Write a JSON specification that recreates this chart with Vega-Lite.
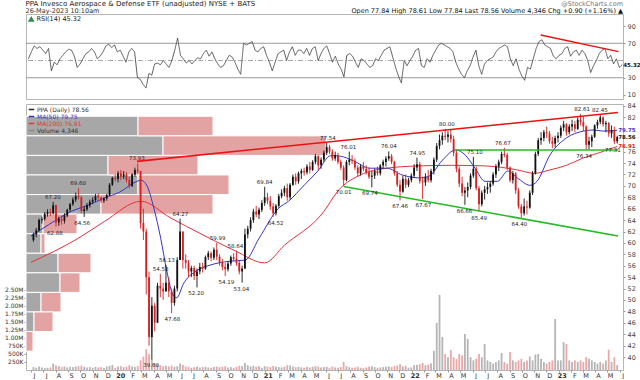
{
"$schema":"https://vega.github.io/schema/vega-lite/v6.json",
"padding":{"left":3,"top":0,"right":0,"bottom":0},
"background":"white",
"bounds":"flush",
"config":{"font":"DejaVu Sans","view":{"stroke":"#b5b5b5"},"axis":{"title":null,"labelFontSize":6.5,"labelColor":"#333","tickColor":"#999","tickSize":2,"domain":false,"grid":false,"labelOverlap":false},"concat":{"spacing":5}},
"title":{"text":"PPA Invesco Aerospace & Defense ETF (unadjusted) NYSE + BATS","subtitle":"26-May-2023 10:10am","anchor":"start","fontSize":7,"fontWeight":"normal","color":"#222","subtitleFontSize":6.5,"subtitleColor":"#333","subtitlePadding":1,"offset":-14,"dx":22},
"datasets":{
"w":[
{"d":"2019-06-07","o":60.5,"h":61.8,"l":60.2,"c":61.5,"v":90,"r":52},
{"d":"2019-06-14","o":61.5,"h":62.6,"l":61.0,"c":62.2,"v":70,"r":60},
{"d":"2019-06-21","o":62.2,"h":64.3,"l":62.0,"c":64.0,"v":110,"r":67},
{"d":"2019-06-28","o":64.0,"h":64.6,"l":63.4,"c":64.2,"v":80,"r":64},
{"d":"2019-07-05","o":64.2,"h":65.4,"l":63.9,"c":65.1,"v":60,"r":66},
{"d":"2019-07-12","o":65.1,"h":65.9,"l":64.6,"c":65.4,"v":70,"r":62},
{"d":"2019-07-19","o":65.4,"h":66.0,"l":64.7,"c":65.2,"v":80,"r":58},
{"d":"2019-07-26","o":65.2,"h":67.2,"l":65.0,"c":66.6,"v":200,"r":64},
{"d":"2019-08-02","o":66.6,"h":66.7,"l":62.88,"c":63.6,"v":150,"r":38},
{"d":"2019-08-09","o":63.6,"h":64.6,"l":63.0,"c":64.2,"v":120,"r":48},
{"d":"2019-08-16","o":64.2,"h":64.8,"l":63.2,"c":63.9,"v":90,"r":45},
{"d":"2019-08-23","o":63.9,"h":65.2,"l":63.4,"c":64.8,"v":110,"r":52},
{"d":"2019-08-30","o":64.8,"h":66.0,"l":64.5,"c":65.8,"v":80,"r":56},
{"d":"2019-09-06","o":65.8,"h":67.0,"l":65.5,"c":66.8,"v":100,"r":60},
{"d":"2019-09-13","o":66.8,"h":68.0,"l":66.5,"c":67.6,"v":90,"r":63},
{"d":"2019-09-20","o":67.6,"h":68.8,"l":67.2,"c":68.2,"v":110,"r":62},
{"d":"2019-09-27","o":68.2,"h":69.6,"l":67.6,"c":68.0,"v":120,"r":55},
{"d":"2019-10-04","o":68.0,"h":68.2,"l":65.2,"c":65.6,"v":140,"r":42},
{"d":"2019-10-11","o":65.6,"h":66.4,"l":64.56,"c":65.9,"v":100,"r":46},
{"d":"2019-10-18","o":65.9,"h":67.0,"l":65.6,"c":66.6,"v":80,"r":52},
{"d":"2019-10-25","o":66.6,"h":67.6,"l":66.2,"c":67.2,"v":90,"r":58},
{"d":"2019-11-01","o":67.2,"h":68.0,"l":66.8,"c":67.5,"v":70,"r":60},
{"d":"2019-11-08","o":67.5,"h":68.6,"l":67.2,"c":68.2,"v":100,"r":64},
{"d":"2019-11-15","o":68.2,"h":68.7,"l":67.6,"c":68.0,"v":80,"r":60},
{"d":"2019-11-22","o":68.0,"h":68.3,"l":67.0,"c":67.4,"v":90,"r":52},
{"d":"2019-11-29","o":67.4,"h":68.0,"l":67.0,"c":67.8,"v":60,"r":55},
{"d":"2019-12-06","o":67.8,"h":68.6,"l":67.4,"c":68.4,"v":110,"r":60},
{"d":"2019-12-13","o":68.4,"h":70.5,"l":68.2,"c":70.2,"v":130,"r":67},
{"d":"2019-12-20","o":70.2,"h":71.6,"l":70.0,"c":71.4,"v":160,"r":69},
{"d":"2019-12-27","o":71.4,"h":72.0,"l":70.8,"c":71.2,"v":70,"r":65},
{"d":"2020-01-03","o":71.2,"h":72.6,"l":70.6,"c":72.2,"v":110,"r":68},
{"d":"2020-01-10","o":72.2,"h":72.8,"l":71.0,"c":71.6,"v":120,"r":60},
{"d":"2020-01-17","o":71.6,"h":72.6,"l":71.2,"c":72.0,"v":90,"r":62},
{"d":"2020-01-24","o":72.0,"h":72.4,"l":70.6,"c":71.0,"v":100,"r":55},
{"d":"2020-01-31","o":71.0,"h":71.6,"l":69.6,"c":70.0,"v":150,"r":48},
{"d":"2020-02-07","o":70.0,"h":72.2,"l":69.8,"c":72.0,"v":110,"r":60},
{"d":"2020-02-14","o":72.0,"h":73.2,"l":71.6,"c":72.8,"v":90,"r":64},
{"d":"2020-02-21","o":72.8,"h":73.93,"l":72.2,"c":72.6,"v":120,"r":60},
{"d":"2020-02-28","o":72.6,"h":72.6,"l":62.5,"c":63.5,"v":300,"r":30},
{"d":"2020-03-06","o":63.5,"h":66.0,"l":60.5,"c":62.0,"v":420,"r":28},
{"d":"2020-03-13","o":62.0,"h":62.5,"l":51.0,"c":54.0,"v":650,"r":22},
{"d":"2020-03-20","o":54.0,"h":55.0,"l":42.0,"c":43.5,"v":500,"r":18},
{"d":"2020-03-27","o":43.5,"h":50.5,"l":39.6,"c":49.0,"v":350,"r":35},
{"d":"2020-04-03","o":49.0,"h":49.5,"l":44.5,"c":46.0,"v":200,"r":33},
{"d":"2020-04-10","o":46.0,"h":53.0,"l":46.0,"c":52.5,"v":180,"r":46},
{"d":"2020-04-17","o":52.5,"h":54.58,"l":50.5,"c":52.0,"v":150,"r":47},
{"d":"2020-04-24","o":52.0,"h":53.0,"l":50.0,"c":51.5,"v":120,"r":45},
{"d":"2020-05-01","o":51.5,"h":56.13,"l":51.5,"c":53.0,"v":130,"r":50},
{"d":"2020-05-08","o":53.0,"h":54.0,"l":50.5,"c":51.5,"v":110,"r":46},
{"d":"2020-05-15","o":51.5,"h":52.0,"l":47.68,"c":49.5,"v":140,"r":42},
{"d":"2020-05-22","o":49.5,"h":52.5,"l":49.0,"c":52.0,"v":100,"r":50},
{"d":"2020-05-29","o":52.0,"h":57.5,"l":51.5,"c":57.0,"v":120,"r":62},
{"d":"2020-06-05","o":57.0,"h":64.27,"l":57.0,"c":62.0,"v":200,"r":76},
{"d":"2020-06-12","o":62.0,"h":62.0,"l":55.5,"c":57.0,"v":160,"r":56},
{"d":"2020-06-19","o":57.0,"h":58.0,"l":55.5,"c":56.5,"v":110,"r":52},
{"d":"2020-06-26","o":56.5,"h":57.0,"l":54.0,"c":55.0,"v":100,"r":47},
{"d":"2020-07-03","o":55.0,"h":56.0,"l":54.0,"c":55.6,"v":70,"r":50},
{"d":"2020-07-10","o":55.6,"h":56.0,"l":53.5,"c":54.2,"v":90,"r":46},
{"d":"2020-07-17","o":54.2,"h":55.5,"l":52.2,"c":55.0,"v":110,"r":50},
{"d":"2020-07-24","o":55.0,"h":56.5,"l":54.5,"c":55.8,"v":80,"r":53},
{"d":"2020-07-31","o":55.8,"h":56.5,"l":54.8,"c":55.5,"v":90,"r":52},
{"d":"2020-08-07","o":55.5,"h":57.8,"l":55.3,"c":57.5,"v":100,"r":58},
{"d":"2020-08-14","o":57.5,"h":58.6,"l":57.0,"c":58.2,"v":80,"r":62},
{"d":"2020-08-21","o":58.2,"h":58.5,"l":56.8,"c":57.4,"v":70,"r":55},
{"d":"2020-08-28","o":57.4,"h":59.2,"l":57.0,"c":58.8,"v":90,"r":60},
{"d":"2020-09-04","o":58.8,"h":59.99,"l":57.0,"c":57.6,"v":110,"r":52},
{"d":"2020-09-11","o":57.6,"h":58.0,"l":56.0,"c":56.6,"v":90,"r":46},
{"d":"2020-09-18","o":56.6,"h":57.2,"l":55.2,"c":55.8,"v":100,"r":42},
{"d":"2020-09-25","o":55.8,"h":56.5,"l":54.19,"c":55.4,"v":120,"r":44},
{"d":"2020-10-02","o":55.4,"h":56.8,"l":55.0,"c":56.4,"v":80,"r":50},
{"d":"2020-10-09","o":56.4,"h":57.8,"l":56.0,"c":57.5,"v":90,"r":56},
{"d":"2020-10-16","o":57.5,"h":58.2,"l":56.8,"c":57.2,"v":70,"r":54},
{"d":"2020-10-23","o":57.2,"h":58.64,"l":56.0,"c":56.5,"v":100,"r":48},
{"d":"2020-10-30","o":56.5,"h":57.0,"l":54.5,"c":55.0,"v":130,"r":40},
{"d":"2020-11-06","o":55.0,"h":56.0,"l":53.04,"c":55.5,"v":120,"r":34},
{"d":"2020-11-13","o":55.5,"h":62.5,"l":55.4,"c":61.5,"v":220,"r":70},
{"d":"2020-11-20","o":61.5,"h":63.0,"l":60.8,"c":62.5,"v":150,"r":68},
{"d":"2020-11-27","o":62.5,"h":64.5,"l":62.0,"c":64.0,"v":110,"r":70},
{"d":"2020-12-04","o":64.0,"h":66.0,"l":63.5,"c":65.5,"v":130,"r":72},
{"d":"2020-12-11","o":65.5,"h":66.5,"l":64.5,"c":65.0,"v":100,"r":62},
{"d":"2020-12-18","o":65.0,"h":66.2,"l":64.2,"c":65.8,"v":120,"r":60},
{"d":"2020-12-25","o":65.8,"h":67.5,"l":65.4,"c":67.0,"v":70,"r":64},
{"d":"2021-01-01","o":67.0,"h":69.84,"l":66.5,"c":68.0,"v":120,"r":66},
{"d":"2021-01-08","o":68.0,"h":68.8,"l":66.8,"c":67.4,"v":110,"r":56},
{"d":"2021-01-15","o":67.4,"h":68.2,"l":65.8,"c":66.4,"v":90,"r":48},
{"d":"2021-01-22","o":66.4,"h":67.0,"l":64.52,"c":65.2,"v":130,"r":38},
{"d":"2021-01-29","o":65.2,"h":66.8,"l":64.8,"c":66.5,"v":100,"r":48},
{"d":"2021-02-05","o":66.5,"h":68.6,"l":66.2,"c":68.2,"v":90,"r":58},
{"d":"2021-02-12","o":68.2,"h":69.4,"l":67.8,"c":68.8,"v":80,"r":60},
{"d":"2021-02-19","o":68.8,"h":70.0,"l":68.2,"c":69.6,"v":100,"r":62},
{"d":"2021-02-26","o":69.6,"h":70.4,"l":67.4,"c":68.0,"v":150,"r":50},
{"d":"2021-03-05","o":68.0,"h":70.5,"l":67.6,"c":70.2,"v":140,"r":60},
{"d":"2021-03-12","o":70.2,"h":72.0,"l":70.0,"c":71.6,"v":110,"r":66},
{"d":"2021-03-19","o":71.6,"h":72.2,"l":70.2,"c":70.8,"v":90,"r":56},
{"d":"2021-03-26","o":70.8,"h":72.5,"l":70.4,"c":72.2,"v":100,"r":62},
{"d":"2021-04-02","o":72.2,"h":73.0,"l":71.2,"c":72.6,"v":80,"r":62},
{"d":"2021-04-09","o":72.6,"h":73.2,"l":71.8,"c":72.4,"v":70,"r":58},
{"d":"2021-04-16","o":72.4,"h":73.8,"l":72.0,"c":73.4,"v":90,"r":64},
{"d":"2021-04-23","o":73.4,"h":74.2,"l":72.2,"c":72.8,"v":80,"r":56},
{"d":"2021-04-30","o":72.8,"h":74.5,"l":72.6,"c":74.2,"v":100,"r":64},
{"d":"2021-05-07","o":74.2,"h":75.6,"l":73.8,"c":75.2,"v":120,"r":66},
{"d":"2021-05-14","o":75.2,"h":75.4,"l":72.8,"c":73.6,"v":110,"r":50},
{"d":"2021-05-21","o":73.6,"h":75.0,"l":73.0,"c":74.6,"v":80,"r":58},
{"d":"2021-05-28","o":74.6,"h":76.2,"l":74.2,"c":75.8,"v":90,"r":64},
{"d":"2021-06-04","o":75.8,"h":77.54,"l":75.4,"c":76.8,"v":100,"r":67},
{"d":"2021-06-11","o":76.8,"h":77.2,"l":75.6,"c":76.0,"v":70,"r":58},
{"d":"2021-06-18","o":76.0,"h":76.4,"l":74.4,"c":74.8,"v":110,"r":48},
{"d":"2021-06-25","o":74.8,"h":76.0,"l":74.4,"c":75.4,"v":80,"r":55},
{"d":"2021-07-02","o":75.4,"h":75.8,"l":73.8,"c":74.2,"v":70,"r":46},
{"d":"2021-07-09","o":74.2,"h":74.6,"l":72.8,"c":73.2,"v":90,"r":40},
{"d":"2021-07-16","o":73.2,"h":73.6,"l":70.01,"c":71.0,"v":250,"r":31},
{"d":"2021-07-23","o":71.0,"h":74.5,"l":70.8,"c":74.2,"v":120,"r":56},
{"d":"2021-07-30","o":74.2,"h":76.01,"l":73.6,"c":74.6,"v":90,"r":58},
{"d":"2021-08-06","o":74.6,"h":75.4,"l":73.8,"c":74.4,"v":70,"r":55},
{"d":"2021-08-13","o":74.4,"h":74.8,"l":72.8,"c":73.2,"v":80,"r":48},
{"d":"2021-08-20","o":73.2,"h":73.6,"l":71.6,"c":72.2,"v":100,"r":42},
{"d":"2021-08-27","o":72.2,"h":73.8,"l":71.8,"c":73.4,"v":70,"r":52},
{"d":"2021-09-03","o":73.4,"h":74.2,"l":72.6,"c":73.0,"v":60,"r":50},
{"d":"2021-09-10","o":73.0,"h":73.6,"l":72.0,"c":72.4,"v":80,"r":46},
{"d":"2021-09-17","o":72.4,"h":73.2,"l":71.2,"c":71.6,"v":110,"r":42},
{"d":"2021-09-24","o":71.6,"h":72.6,"l":69.74,"c":71.8,"v":120,"r":44},
{"d":"2021-10-01","o":71.8,"h":73.0,"l":71.2,"c":72.6,"v":90,"r":52},
{"d":"2021-10-08","o":72.6,"h":73.4,"l":71.8,"c":72.2,"v":70,"r":50},
{"d":"2021-10-15","o":72.2,"h":73.8,"l":71.8,"c":73.6,"v":80,"r":56},
{"d":"2021-10-22","o":73.6,"h":74.6,"l":73.0,"c":74.2,"v":90,"r":62},
{"d":"2021-10-29","o":74.2,"h":75.2,"l":73.4,"c":74.8,"v":100,"r":64},
{"d":"2021-11-05","o":74.8,"h":76.04,"l":74.4,"c":75.2,"v":110,"r":66},
{"d":"2021-11-12","o":75.2,"h":75.6,"l":73.8,"c":74.2,"v":90,"r":54},
{"d":"2021-11-19","o":74.2,"h":74.4,"l":71.8,"c":72.2,"v":120,"r":42},
{"d":"2021-11-26","o":72.2,"h":72.6,"l":69.8,"c":70.2,"v":140,"r":32},
{"d":"2021-12-03","o":70.2,"h":71.0,"l":67.46,"c":69.0,"v":180,"r":24},
{"d":"2021-12-10","o":69.0,"h":71.8,"l":68.8,"c":71.2,"v":110,"r":50},
{"d":"2021-12-17","o":71.2,"h":72.0,"l":69.6,"c":70.2,"v":130,"r":44},
{"d":"2021-12-24","o":70.2,"h":71.4,"l":69.8,"c":71.0,"v":70,"r":50},
{"d":"2021-12-31","o":71.0,"h":72.2,"l":70.6,"c":71.8,"v":80,"r":55},
{"d":"2022-01-07","o":71.8,"h":73.8,"l":71.4,"c":73.2,"v":150,"r":62},
{"d":"2022-01-14","o":73.2,"h":74.95,"l":72.6,"c":73.8,"v":160,"r":64},
{"d":"2022-01-21","o":73.8,"h":74.2,"l":70.4,"c":70.8,"v":180,"r":44},
{"d":"2022-01-28","o":70.8,"h":71.6,"l":67.67,"c":70.6,"v":220,"r":42},
{"d":"2022-02-04","o":70.6,"h":72.2,"l":70.0,"c":71.6,"v":150,"r":52},
{"d":"2022-02-11","o":71.6,"h":72.8,"l":70.6,"c":71.0,"v":170,"r":48},
{"d":"2022-02-18","o":71.0,"h":73.0,"l":70.6,"c":72.6,"v":200,"r":56},
{"d":"2022-02-25","o":72.6,"h":75.0,"l":72.0,"c":74.6,"v":600,"r":62},
{"d":"2022-03-04","o":74.6,"h":77.5,"l":74.2,"c":77.0,"v":1470,"r":68},
{"d":"2022-03-11","o":77.0,"h":79.0,"l":76.4,"c":78.0,"v":2340,"r":70},
{"d":"2022-03-18","o":78.0,"h":79.4,"l":77.2,"c":78.8,"v":1030,"r":68},
{"d":"2022-03-25","o":78.8,"h":80.0,"l":78.0,"c":78.6,"v":500,"r":66},
{"d":"2022-04-01","o":78.6,"h":79.6,"l":77.6,"c":79.0,"v":400,"r":64},
{"d":"2022-04-08","o":79.0,"h":79.8,"l":77.6,"c":78.2,"v":620,"r":60},
{"d":"2022-04-15","o":78.2,"h":78.8,"l":75.2,"c":75.8,"v":400,"r":48},
{"d":"2022-04-22","o":75.8,"h":76.2,"l":72.4,"c":73.0,"v":350,"r":40},
{"d":"2022-04-29","o":73.0,"h":73.4,"l":69.8,"c":70.4,"v":500,"r":34},
{"d":"2022-05-06","o":70.4,"h":71.6,"l":68.2,"c":68.8,"v":450,"r":30},
{"d":"2022-05-13","o":68.8,"h":69.8,"l":66.66,"c":69.2,"v":1120,"r":38},
{"d":"2022-05-20","o":69.2,"h":70.6,"l":68.0,"c":69.8,"v":970,"r":44},
{"d":"2022-05-27","o":69.8,"h":72.2,"l":69.4,"c":71.8,"v":400,"r":54},
{"d":"2022-06-03","o":71.8,"h":75.1,"l":71.4,"c":73.0,"v":300,"r":62},
{"d":"2022-06-10","o":73.0,"h":73.4,"l":69.2,"c":69.6,"v":350,"r":44},
{"d":"2022-06-17","o":69.6,"h":70.0,"l":65.49,"c":66.8,"v":500,"r":34},
{"d":"2022-06-24","o":66.8,"h":69.2,"l":66.4,"c":68.8,"v":400,"r":46},
{"d":"2022-07-01","o":68.8,"h":70.0,"l":67.6,"c":69.4,"v":810,"r":50},
{"d":"2022-07-08","o":69.4,"h":70.6,"l":68.6,"c":69.8,"v":300,"r":52},
{"d":"2022-07-15","o":69.8,"h":70.8,"l":68.8,"c":70.4,"v":250,"r":54},
{"d":"2022-07-22","o":70.4,"h":72.4,"l":70.0,"c":72.0,"v":200,"r":60},
{"d":"2022-07-29","o":72.0,"h":73.8,"l":71.4,"c":73.4,"v":250,"r":64},
{"d":"2022-08-05","o":73.4,"h":74.6,"l":72.6,"c":74.2,"v":300,"r":66},
{"d":"2022-08-12","o":74.2,"h":76.0,"l":73.8,"c":75.6,"v":530,"r":68},
{"d":"2022-08-19","o":75.6,"h":76.67,"l":75.0,"c":75.4,"v":250,"r":66},
{"d":"2022-08-26","o":75.4,"h":75.8,"l":72.8,"c":73.2,"v":200,"r":52},
{"d":"2022-09-02","o":73.2,"h":73.4,"l":70.6,"c":71.0,"v":560,"r":44},
{"d":"2022-09-09","o":71.0,"h":72.6,"l":70.4,"c":72.2,"v":300,"r":52},
{"d":"2022-09-16","o":72.2,"h":72.4,"l":68.6,"c":69.2,"v":250,"r":40},
{"d":"2022-09-23","o":69.2,"h":69.6,"l":66.0,"c":66.4,"v":300,"r":32},
{"d":"2022-09-30","o":66.4,"h":66.8,"l":64.4,"c":65.2,"v":350,"r":27},
{"d":"2022-10-07","o":65.2,"h":67.8,"l":64.8,"c":66.4,"v":250,"r":42},
{"d":"2022-10-14","o":66.4,"h":67.4,"l":65.0,"c":66.2,"v":300,"r":40},
{"d":"2022-10-21","o":66.2,"h":69.2,"l":66.0,"c":68.8,"v":420,"r":52},
{"d":"2022-10-28","o":68.8,"h":72.6,"l":68.4,"c":72.2,"v":300,"r":64},
{"d":"2022-11-04","o":72.2,"h":76.0,"l":72.0,"c":75.6,"v":480,"r":72},
{"d":"2022-11-11","o":75.6,"h":78.4,"l":75.2,"c":78.0,"v":500,"r":74},
{"d":"2022-11-18","o":78.0,"h":79.4,"l":77.2,"c":78.4,"v":350,"r":68},
{"d":"2022-11-25","o":78.4,"h":79.8,"l":77.8,"c":79.4,"v":250,"r":66},
{"d":"2022-12-02","o":79.4,"h":80.4,"l":78.4,"c":79.2,"v":200,"r":64},
{"d":"2022-12-09","o":79.2,"h":79.6,"l":77.4,"c":77.8,"v":250,"r":55},
{"d":"2022-12-16","o":77.8,"h":78.6,"l":76.6,"c":77.4,"v":300,"r":52},
{"d":"2022-12-23","o":77.4,"h":78.8,"l":76.8,"c":78.4,"v":1590,"r":56},
{"d":"2022-12-30","o":78.4,"h":79.4,"l":77.6,"c":78.8,"v":300,"r":58},
{"d":"2023-01-06","o":78.8,"h":80.6,"l":78.4,"c":80.2,"v":300,"r":64},
{"d":"2023-01-13","o":80.2,"h":81.4,"l":79.6,"c":80.8,"v":870,"r":66},
{"d":"2023-01-20","o":80.8,"h":81.0,"l":78.8,"c":79.4,"v":810,"r":55},
{"d":"2023-01-27","o":79.4,"h":80.8,"l":79.0,"c":80.4,"v":300,"r":60},
{"d":"2023-02-03","o":80.4,"h":81.6,"l":79.6,"c":80.8,"v":250,"r":62},
{"d":"2023-02-10","o":80.8,"h":81.4,"l":79.4,"c":80.0,"v":300,"r":56},
{"d":"2023-02-17","o":80.0,"h":82.0,"l":79.8,"c":81.6,"v":250,"r":62},
{"d":"2023-02-24","o":81.6,"h":82.61,"l":80.6,"c":81.2,"v":300,"r":58},
{"d":"2023-03-03","o":81.2,"h":82.2,"l":79.6,"c":80.4,"v":250,"r":50},
{"d":"2023-03-10","o":80.4,"h":80.6,"l":76.34,"c":77.2,"v":400,"r":36},
{"d":"2023-03-17","o":77.2,"h":78.6,"l":76.4,"c":77.8,"v":350,"r":44},
{"d":"2023-03-24","o":77.8,"h":79.0,"l":76.8,"c":78.6,"v":300,"r":50},
{"d":"2023-03-31","o":78.6,"h":80.8,"l":78.4,"c":80.6,"v":250,"r":58},
{"d":"2023-04-07","o":80.6,"h":81.6,"l":80.0,"c":81.2,"v":200,"r":62},
{"d":"2023-04-14","o":81.2,"h":82.45,"l":80.8,"c":82.0,"v":250,"r":64},
{"d":"2023-04-21","o":82.0,"h":82.2,"l":80.4,"c":80.8,"v":200,"r":52},
{"d":"2023-04-28","o":80.8,"h":81.4,"l":79.4,"c":81.0,"v":300,"r":56},
{"d":"2023-05-05","o":81.0,"h":81.2,"l":78.6,"c":79.2,"v":630,"r":46},
{"d":"2023-05-12","o":79.2,"h":80.6,"l":78.4,"c":79.8,"v":250,"r":52},
{"d":"2023-05-19","o":79.8,"h":80.4,"l":77.31,"c":77.8,"v":400,"r":42},
{"d":"2023-05-26","o":77.8,"h":78.8,"l":77.4,"c":78.56,"v":150,"r":45.32}
],
"ma50":[
{"d":"2019-06-01","v":61.2},{"d":"2019-07-15","v":63.2},{"d":"2019-09-11","v":65.6},{"d":"2019-10-20","v":66.6},{"d":"2019-12-01","v":67.9},{"d":"2020-01-07","v":68.9},{"d":"2020-02-19","v":70.8},{"d":"2020-02-29","v":71.0},{"d":"2020-03-15","v":70.0},{"d":"2020-04-01","v":66.1},{"d":"2020-04-18","v":60.8},{"d":"2020-05-03","v":55.1},{"d":"2020-05-20","v":50.7},{"d":"2020-05-28","v":50.4},{"d":"2020-06-13","v":52.8},{"d":"2020-07-15","v":55.1},{"d":"2020-08-18","v":56.1},{"d":"2020-10-06","v":56.8},{"d":"2020-11-14","v":57.0},{"d":"2020-12-18","v":60.8},{"d":"2021-02-05","v":66.1},{"d":"2021-03-01","v":67.3},{"d":"2021-04-10","v":70.2},{"d":"2021-05-13","v":72.6},{"d":"2021-06-14","v":75.3},{"d":"2021-07-08","v":75.2},{"d":"2021-08-09","v":74.4},{"d":"2021-09-19","v":73.1},{"d":"2021-10-31","v":73.1},{"d":"2021-12-09","v":71.9},{"d":"2022-01-19","v":71.4},{"d":"2022-02-13","v":71.7},{"d":"2022-03-17","v":74.4},{"d":"2022-04-20","v":76.3},{"d":"2022-05-14","v":75.4},{"d":"2022-06-07","v":73.1},{"d":"2022-07-02","v":70.8},{"d":"2022-08-02","v":70.8},{"d":"2022-08-27","v":72.6},{"d":"2022-09-20","v":71.4},{"d":"2022-10-22","v":70.1},{"d":"2022-11-08","v":70.8},{"d":"2022-12-10","v":75.4},{"d":"2023-01-20","v":78.4},{"d":"2023-03-03","v":79.6},{"d":"2023-03-27","v":79.8},{"d":"2023-04-21","v":79.6},{"d":"2023-05-26","v":79.75}
],
"ma200":[
{"d":"2019-06-01","v":56.6},{"d":"2019-09-26","v":60.8},{"d":"2019-12-01","v":63.8},{"d":"2020-02-29","v":67.3},{"d":"2020-05-12","v":64.4},{"d":"2020-08-01","v":61.4},{"d":"2020-10-20","v":58.6},{"d":"2021-01-01","v":56.5},{"d":"2021-02-19","v":59.6},{"d":"2021-05-21","v":64.9},{"d":"2021-07-08","v":69.6},{"d":"2021-08-26","v":71.9},{"d":"2021-10-31","v":73.1},{"d":"2022-01-19","v":73.5},{"d":"2022-04-10","v":73.6},{"d":"2022-07-02","v":73.5},{"d":"2022-09-20","v":72.8},{"d":"2022-11-01","v":72.2},{"d":"2022-12-10","v":72.8},{"d":"2023-01-20","v":73.6},{"d":"2023-03-03","v":74.9},{"d":"2023-04-11","v":75.8},{"d":"2023-05-26","v":76.91}
],
"ann":[
{"d":"2019-07-25","p":67.2,"t":"67.20","k":"h"},{"d":"2019-09-26","p":69.6,"t":"69.60","k":"h"},{"d":"2020-02-19","p":73.93,"t":"73.93","k":"h"},{"d":"2020-04-18","p":54.58,"t":"54.58","k":"h"},{"d":"2020-05-03","p":56.13,"t":"56.13","k":"h"},{"d":"2020-06-06","p":64.27,"t":"64.27","k":"h"},{"d":"2020-09-06","p":59.99,"t":"59.99","k":"h"},{"d":"2020-10-20","p":58.64,"t":"58.64","k":"h"},{"d":"2021-01-01","p":69.84,"t":"69.84","k":"h"},{"d":"2021-06-07","p":77.54,"t":"77.54","k":"h"},{"d":"2021-07-28","p":76.01,"t":"76.01","k":"h"},{"d":"2021-11-05","p":76.04,"t":"76.04","k":"h"},{"d":"2022-01-15","p":74.95,"t":"74.95","k":"h"},{"d":"2022-03-29","p":80.0,"t":"80.00","k":"h"},{"d":"2022-06-07","p":75.1,"t":"75.10","k":"h"},{"d":"2022-08-15","p":76.67,"t":"76.67","k":"h"},{"d":"2023-02-28","p":82.61,"t":"82.61","k":"h"},{"d":"2023-04-13","p":82.45,"t":"82.45","k":"h"},
{"d":"2019-07-30","p":62.88,"t":"62.88","k":"l"},{"d":"2019-10-06","p":64.56,"t":"64.56","k":"l"},{"d":"2020-03-25","p":39.6,"t":"39.60","k":"l"},{"d":"2020-05-17","p":47.68,"t":"47.68","k":"l"},{"d":"2020-07-15","p":52.2,"t":"52.20","k":"l"},{"d":"2020-09-28","p":54.19,"t":"54.19","k":"l"},{"d":"2020-11-04","p":53.04,"t":"53.04","k":"l"},{"d":"2021-01-28","p":64.52,"t":"64.52","k":"l"},{"d":"2021-07-16","p":70.01,"t":"70.01","k":"l"},{"d":"2021-09-19","p":69.74,"t":"69.74","k":"l"},{"d":"2021-12-03","p":67.46,"t":"67.46","k":"l"},{"d":"2022-01-30","p":67.67,"t":"67.67","k":"l"},{"d":"2022-05-12","p":66.66,"t":"66.66","k":"l"},{"d":"2022-06-17","p":65.49,"t":"65.49","k":"l"},{"d":"2022-09-25","p":64.4,"t":"64.40","k":"l"},{"d":"2023-03-05","p":76.34,"t":"76.34","k":"l"},{"d":"2023-05-15","p":77.31,"t":"77.31","k":"l"}
],
"vbp":[
{"lo":78.77,"hi":82.2,"z":0,"g":112,"p":187},{"lo":75.34,"hi":78.77,"z":0,"g":137,"p":300},{"lo":71.91,"hi":75.34,"z":0,"g":82,"p":172},{"lo":68.48,"hi":71.91,"z":0,"g":112,"p":203},{"lo":65.05,"hi":68.48,"z":0,"g":75,"p":187},{"lo":61.62,"hi":65.05,"z":0,"g":17,"p":51},{"lo":58.19,"hi":61.62,"z":0,"g":15,"p":19},{"lo":54.76,"hi":58.19,"z":0,"g":32,"p":65},{"lo":51.33,"hi":54.76,"z":0,"g":34,"p":54},{"lo":47.9,"hi":51.33,"z":0,"g":15,"p":35},{"lo":44.47,"hi":47.9,"z":0,"g":8,"p":27},{"lo":41.04,"hi":44.47,"z":0,"g":0,"p":7}
],
"trend":[
{"d":"2020-02-19","p":74.3,"g":"red"},{"d":"2023-05-28","p":82.85,"g":"red"},
{"d":"2021-07-16","p":69.9,"g":"low"},{"d":"2023-05-28","p":61.2,"g":"low"},
{"d":"2022-04-20","p":76.3,"g":"flat"},{"d":"2023-05-28","p":76.3,"g":"flat"}
],
"lastv":[
{"d":"2023-05-26","p":79.75,"t":"79.75","s":"a"},{"d":"2023-05-26","p":78.56,"t":"78.56","s":"c"},{"d":"2023-05-26","p":76.91,"t":"76.91","s":"b"}
]
},
"resolve":{"scale":{"x":"independent","y":"independent"},"legend":{"color":"independent","strokeDash":"independent"}},
"vconcat":[
{
"width":597,"height":85,
"title":{"text":"@StockCharts.com","subtitle":"Open 77.84  High 78.61  Low 77.84  Last 78.56  Volume 4,346  Chg +0.90 (+1.16%) ▲","anchor":"end","frame":"group","fontSize":6.5,"fontWeight":"normal","color":"#777","subtitleFontSize":6.5,"subtitleColor":"#111","offset":0,"subtitlePadding":0},
"layer":[
{"data":{"values":[{"lv":70},{"lv":30}]},"mark":{"type":"rule","color":"#9a9a9a","strokeWidth":1},"encoding":{"y":{"field":"lv","type":"quantitative","scale":{"domain":[5.3,104],"nice":false,"zero":false}}}},
{"data":{"values":[{"lv":50}]},"mark":{"type":"rule","color":"#aaaaaa","strokeWidth":1,"strokeDash":[5,2,1,2]},"encoding":{"y":{"field":"lv","type":"quantitative","scale":{"domain":[5.3,104],"nice":false,"zero":false}}}},
{"data":{"name":"w"},"mark":{"type":"line","color":"#333","strokeWidth":0.8},
 "encoding":{"x":{"field":"d","type":"temporal","scale":{"domain":[{"year":2019,"month":6,"date":1},{"year":2023,"month":5,"date":28}]},"axis":null},
 "y":{"field":"r","type":"quantitative","scale":{"domain":[5.3,104],"nice":false,"zero":false},"axis":{"orient":"right","values":[10,30,70,90],"tickCount":50,"labelOverlap":false,"labelFontSize":6.5,"labelColor":"#444","labelPadding":2,"minExtent":16,"maxExtent":16}},
 "strokeDash":{"datum":"RSI(14) 45.32","type":"nominal","scale":{"range":[[1,0]]},"legend":{"orient":"top-left","title":null,"offset":1,"padding":1,"labelFontSize":6.5,"labelColor":"#222","symbolType":"triangle-up","symbolSize":18,"symbolFillColor":"#2e8b57","symbolStrokeColor":"#2e8b57","labelOffset":2}}}},
{"data":{"values":[{"d":"2022-11-08","r":79.7},{"d":"2023-05-17","r":60.3}]},"mark":{"type":"line","color":"#ee1111","strokeWidth":1.5},"encoding":{"x":{"field":"d","type":"temporal"},"y":{"field":"r","type":"quantitative"}}},
{"data":{"values":[{"d":"2023-05-26","r":45.32,"t":"45.32"}]},"mark":{"type":"text","align":"left","dx":1,"fontSize":5.5,"fontWeight":"bold","color":"#111"},"encoding":{"x":{"field":"d","type":"temporal"},"y":{"field":"r","type":"quantitative"},"text":{"field":"t"}}}
]
},
{
"width":597,"height":266,
"resolve":{"scale":{"x":"independent","y":"independent"}},
"layer":[
{"data":{"name":"vbp"},"layer":[
 {"mark":{"type":"rect","color":"#a7a7a7","stroke":"white","strokeWidth":1},"encoding":{"x":{"field":"z","type":"quantitative","scale":{"domain":[0,597],"nice":false},"axis":null},"x2":{"field":"g"},"y":{"field":"lo","type":"quantitative","scale":{"domain":[37.73,84.35],"nice":false,"zero":false},"axis":null},"y2":{"field":"hi"}}},
 {"mark":{"type":"rect","color":"#e3a3a3","stroke":"white","strokeWidth":1},"encoding":{"x":{"field":"g","type":"quantitative","scale":{"domain":[0,597],"nice":false},"axis":null},"x2":{"field":"p"},"y":{"field":"lo","type":"quantitative","scale":{"domain":[37.73,84.35],"nice":false,"zero":false},"axis":null},"y2":{"field":"hi"}}}
]},
{"data":{"name":"w"},"mark":{"type":"bar","width":1.8,"opacity":0.75},
 "encoding":{"x":{"field":"d","type":"temporal","scale":{"domain":[{"year":2019,"month":6,"date":1},{"year":2023,"month":5,"date":28}]},"axis":null},
 "y":{"field":"v","type":"quantitative","scale":{"domain":[0,8300],"nice":false},"axis":{"orient":"left","values":[250,500,750,1000,1250,1500,1750,2000,2250,2500],"tickCount":50,"labelOverlap":false,"labelExpr":"datum.value < 1000 ? datum.value + 'K' : format(datum.value/1000, '.2f') + 'M'","labelFontSize":6,"labelPadding":1,"minExtent":22,"maxExtent":22}},
 "color":{"condition":{"test":"datum.c >= datum.o","value":"#9c9c9c"},"value":"#e58a8a"}}},
{"layer":[
 {"data":{"name":"ma200"},"mark":{"type":"line","strokeWidth":1,"interpolate":"monotone"},
  "encoding":{"x":{"field":"d","type":"temporal","scale":{"domain":[{"year":2019,"month":6,"date":1},{"year":2023,"month":5,"date":28}]},
   "axis":{"orient":"bottom","tickCount":{"interval":"month","step":1},"labelExpr":"month(datum.value) == 0 ? timeFormat(datum.value, '%y') : substring(timeFormat(datum.value, '%b'), 0, 1)","labelFontWeight":{"condition":{"test":"month(datum.value) == 0","value":"bold"},"value":"normal"},"labelFontSize":6.5,"labelPadding":0,"labelOffset":3,"labelOverlap":false,"labelFlush":false,"labelBound":false}},
  "y":{"field":"v","type":"quantitative","scale":{"domain":[37.73,84.35],"nice":false,"zero":false},"axis":{"orient":"right","values":[40,42,44,46,48,50,52,54,56,58,60,62,64,66,68,70,72,74,76,82,84],"tickCount":50,"labelOverlap":false,"labelFontSize":6.5,"labelColor":"#444","labelPadding":2,"minExtent":16,"maxExtent":16}},
  "color":{"datum":"MA(200) 76.91","type":"nominal","scale":{"domain":["PPA (Daily) 78.56","MA(50) 79.75","MA(200) 76.91","Volume 4,346"],"range":["#222222","#3535c8","#e8303c","#8a8a8a"]},
   "legend":{"orient":"top-left","title":null,"offset":1,"padding":1,"labelFontSize":6,"labelColor":"#333","symbolSize":30,"symbolStrokeWidth":1.5,"rowPadding":0,"labelOffset":2,"symbolType":"stroke","encode":{"labels":{"update":{"fill":{"signal":"indexof(datum.label, 'MA(50)') >= 0 ? '#3535c8' : (indexof(datum.label, 'MA(200)') >= 0 ? '#e8303c' : '#333333')"}}}}}}}},
 {"data":{"name":"ma50"},"mark":{"type":"line","strokeWidth":1,"interpolate":"monotone"},
  "encoding":{"x":{"field":"d","type":"temporal"},"y":{"field":"v","type":"quantitative"},"color":{"datum":"MA(50) 79.75","type":"nominal"}}},
 {"data":{"name":"w"},"mark":{"type":"rule","strokeWidth":0.9},
  "encoding":{"x":{"field":"d","type":"temporal"},"y":{"field":"l","type":"quantitative"},"y2":{"field":"h"},"color":{"condition":{"test":"datum.c >= datum.o","value":"#111111"},"value":"#d42020"}}},
 {"data":{"name":"w"},"mark":{"type":"bar","width":1.8},
  "encoding":{"x":{"field":"d","type":"temporal"},"y":{"field":"o","type":"quantitative"},"y2":{"field":"c"},"color":{"condition":{"test":"datum.c >= datum.o","value":"#111111"},"value":"#d42020"}}},
 {"data":{"name":"trend"},"mark":{"type":"line","strokeWidth":1.6},
  "encoding":{"x":{"field":"d","type":"temporal"},"y":{"field":"p","type":"quantitative"},"detail":{"field":"g"},"color":{"condition":{"test":"datum.g == 'red'","value":"#ee1111"},"value":"#22bb22"}}},
 {"data":{"name":"ann"},"transform":[{"filter":"datum.k == 'h'"}],"mark":{"type":"text","dy":-5,"fontSize":5.5,"color":"#222"},
  "encoding":{"x":{"field":"d","type":"temporal"},"y":{"field":"p","type":"quantitative"},"text":{"field":"t"}}},
 {"data":{"name":"ann"},"transform":[{"filter":"datum.k == 'l'"}],"mark":{"type":"text","dy":6,"fontSize":5.5,"color":"#222"},
  "encoding":{"x":{"field":"d","type":"temporal"},"y":{"field":"p","type":"quantitative"},"text":{"field":"t"}}},
 {"data":{"name":"lastv"},"mark":{"type":"text","align":"left","dx":1,"fontSize":5.5,"fontWeight":"bold"},
  "encoding":{"x":{"field":"d","type":"temporal"},"y":{"field":"p","type":"quantitative"},"text":{"field":"t"},"color":{"condition":[{"test":"datum.s == 'a'","value":"#3535c8"},{"test":"datum.s == 'b'","value":"#d42020"}],"value":"#111111"}}}
]}
]
}
]
}
